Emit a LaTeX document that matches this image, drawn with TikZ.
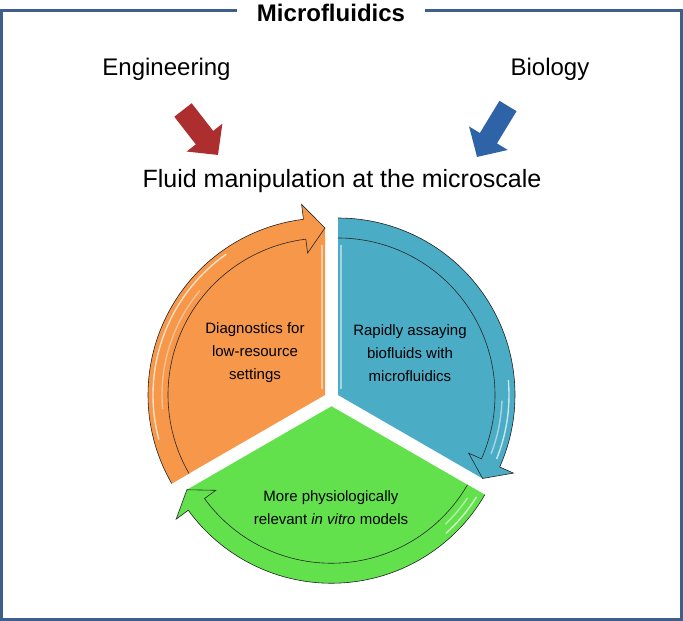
\documentclass[tikz,border=0pt]{standalone}
\usepackage{fontspec}
\setmainfont{Liberation Sans}
\usetikzlibrary{arrows.meta}
\definecolor{framecol}{RGB}{62,95,140}
\definecolor{engred}{RGB}{172,46,46}
\definecolor{bioblue}{RGB}{47,99,168}
\definecolor{diagorange}{RGB}{246,151,74}
\definecolor{assayblue}{RGB}{75,172,198}
\definecolor{modelgreen}{RGB}{98,225,76}

\begin{document}
\begin{tikzpicture}[x=1pt,y=1pt,
  ringline/.style={draw=black!85, line width=0.6pt},
  gloss/.style={white, line width=1.4pt, opacity=0.7},
  sectortext/.style={align=center, font=\fontsize{15}{23}\selectfont},
  toptext/.style={anchor=base, font=\fontsize{24}{28}\selectfont}]
\useasboundingbox (0,0) rectangle (683,621);
\draw[framecol, line width=3pt] (1.5,1.5) rectangle (681.5,610);
\node[fill=white, inner xsep=20pt, anchor=base, font=\fontsize{24}{28}\selectfont\bfseries] (title) at (331,599) {Microfluidics};

\node[toptext] (eng) at (166.5,545) {Engineering};
\node[toptext] (bio) at (550,545) {Biology};
\node[toptext, font=\fontsize{25}{30}\selectfont] (fluid) at (342,433) {Fluid manipulation at the microscale};

\coordinate (engtail) at (183,511);
\coordinate (engtip) at (218,466);
\coordinate (biotail) at (508,515);
\coordinate (biotip) at (477,464);
\draw[engred, line width=22pt, -{Triangle[length=22pt,width=44pt]}] (engtail) -- (engtip);
\draw[bioblue, line width=20pt, -{Triangle[length=22pt,width=44pt]}] (biotail) -- (biotip);

% diagnostics
\begin{scope}[shift={(325,226)}]
\fill[diagorange] (0,0) -- (210:177) arc[start angle=210, end angle=97, radius=177] -- (90:167) -- cycle;
\draw[ringline, fill=diagorange] (210:177) arc[start angle=210, end angle=97, radius=177] -- (97:192) -- (90:167) -- (97:143) -- (97:157) arc[start angle=97, end angle=210, radius=157];
\draw[gloss] (195:172) arc[start angle=195, end angle=125, radius=172];
\draw[gloss, opacity=0.4] (185:163) arc[start angle=185, end angle=140, radius=163];
\draw[white, opacity=0.5, line width=1.5pt] (-3,6) -- (-3,150);
\end{scope}

% assaying
\begin{scope}[shift={(338,226)}]
\fill[assayblue] (0,0) -- (90:177) arc[start angle=90, end angle=-24, radius=177] -- (-30:167) -- cycle;
\draw[ringline, fill=assayblue] (90:177) arc[start angle=90, end angle=-24, radius=177] -- (-24:192) -- (-30:167) -- (-24:143) -- (-24:157) arc[start angle=-24, end angle=90, radius=157];
\draw[gloss] (5:171) arc[start angle=5, end angle=-22, radius=171];
\draw[gloss, opacity=0.5] (-2:164) arc[start angle=-2, end angle=-21, radius=164];
\draw[white, opacity=0.5, line width=1.5pt] (3,6) -- (3,150);
\end{scope}

% models
\begin{scope}[shift={(331.5,214.75)}]
\fill[modelgreen] (0,0) -- (330:177) arc[start angle=330, end angle=216, radius=177] -- (210:167) -- cycle;
\draw[ringline, fill=modelgreen] (330:177) arc[start angle=330, end angle=216, radius=177] -- (216:192) -- (210:167) -- (216:143) -- (216:157) arc[start angle=216, end angle=330, radius=157];
\draw[gloss] (328:171) arc[start angle=328, end angle=312, radius=171];
\draw[gloss, opacity=0.5] (326:164) arc[start angle=326, end angle=314, radius=164];
\end{scope}

\node[sectortext] (diag) at (255,268) {Diagnostics for\\low-resource\\settings};
\node[sectortext] (assay) at (410,268) {Rapidly assaying\\biofluids with\\microfluidics};
\node[sectortext] (models) at (331,113) {More physiologically\\relevant \textit{in vitro} models};
\end{tikzpicture}
\end{document}
